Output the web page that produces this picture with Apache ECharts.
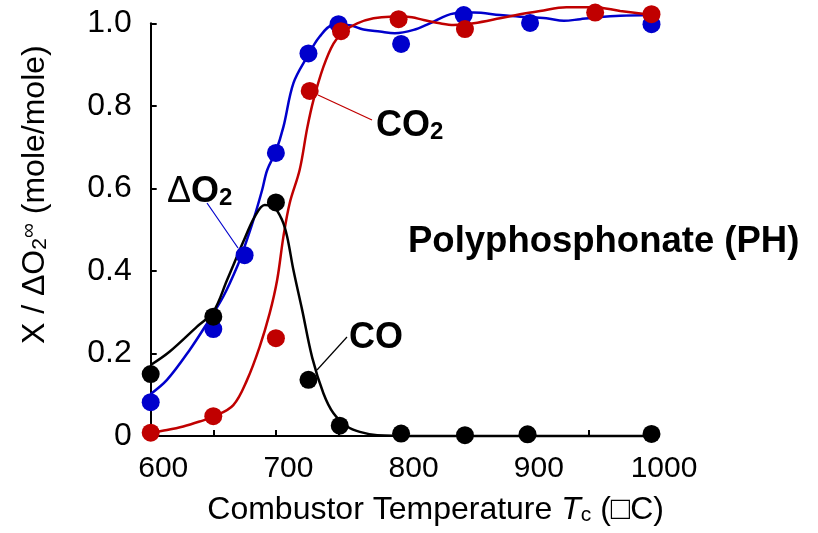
<!DOCTYPE html>
<html>
<head>
<meta charset="utf-8">
<script src="https://cdn.jsdelivr.net/npm/echarts@6/dist/echarts.min.js"></script>
<style>
  html, body { margin: 0; padding: 0; background: #fff; }
  #chart { width: 818px; height: 533px; }
</style>
</head>
<body>
<div id="chart"></div>
<script>
// Measured points: combustor temperature (°C) and normalised yield
const tempCO  = [590, 640, 690, 716, 741, 790, 841, 891, 990];
const yieldCO = [0.150, 0.289, 0.566, 0.136, 0.025, 0.006, 0.002, 0.004, 0.005];

const tempO2  = [590, 640, 665, 690, 716, 740, 790, 840, 893, 990];
const yieldO2 = [0.082, 0.259, 0.438, 0.686, 0.927, 0.998, 0.950, 1.020, 1.001, 0.998];

const tempCO2  = [590, 640, 690, 717, 742, 788, 841, 945, 990];
const yieldCO2 = [0.008, 0.048, 0.237, 0.836, 0.981, 1.010, 0.986, 1.026, 1.022];

// Fitted curves drawn through each data set
const fitTempCO = [590, 605, 627, 640, 651, 664, 673, 681, 688, 695, 699, 704, 711, 719, 728, 736, 747, 757, 771, 800, 990];
const fitCO     = [0.172, 0.204, 0.265, 0.301, 0.378, 0.471, 0.531, 0.560, 0.556, 0.523, 0.483, 0.402, 0.305, 0.190, 0.103, 0.055, 0.023, 0.010, 0.002, 0, 0];

const fitTempO2 = [590, 603, 621, 635, 648, 659, 665, 672, 679, 683, 690, 696, 704, 715, 725, 736, 747, 760, 773, 785, 800, 813, 832, 848, 869, 885, 906, 920, 933, 946, 965, 990];
const fitO2     = [0.102, 0.136, 0.208, 0.273, 0.338, 0.410, 0.459, 0.523, 0.596, 0.644, 0.690, 0.749, 0.855, 0.919, 0.968, 0.996, 0.996, 0.985, 0.980, 0.976, 0.984, 1.000, 1.024, 1.026, 1.020, 1.016, 1.012, 1.006, 1.010, 1.014, 1.018, 1.020];

const fitTempCO2 = [590, 603, 616, 629, 641, 656, 667, 677, 685, 691, 696, 701, 709, 715, 720, 728, 736, 744, 755, 768, 781, 795, 808, 821, 832, 848, 869, 885, 901, 922, 944, 965, 986];
const fitCO2     = [0.008, 0.0145, 0.023, 0.035, 0.048, 0.075, 0.136, 0.216, 0.297, 0.378, 0.483, 0.564, 0.645, 0.746, 0.814, 0.895, 0.951, 0.980, 1.000, 1.012, 1.016, 1.016, 1.008, 1.000, 0.996, 1.000, 1.012, 1.022, 1.030, 1.039, 1.039, 1.030, 1.022];

// Axis ranges and tick labels
const xMin = 590, xMax = 990, xStep = 50;
const xLabelMin = 600, xLabelMax = 1000, xLabelStep = 100;
const yMin = 0, yMax = 1, yStep = 0.2;

const BLUE = '#0000CC', RED = '#C00000', BLACK = '#000000';
const FONT = '"Liberation Sans", Arial, Helvetica, sans-serif';

const zip = (xs, ys) => xs.map((x, i) => [x, ys[i]]);

const chart = echarts.init(document.getElementById('chart'), null, { renderer: 'canvas' });

// Plot frame in pixels; a second grid carries the 600..1000 labels on the same scale
const plotL = 150.7, plotR = 651.5, plotT = 23.3, plotB = 436;
const pxPerUnit = (plotR - plotL) / (xMax - xMin);
const lblL = plotL + (xLabelMin - xMin) * pxPerUnit;
const lblR = plotL + (xLabelMax - xMin) * pxPerUnit;

function lineSeries(name, xs, ys, color) {
  return {
    name, type: 'line', data: zip(xs, ys), smooth: 0.35, showSymbol: false,
    lineStyle: { color, width: 2.5 }, clip: false, silent: true, z: 2
  };
}
function dotSeries(name, xs, ys, color, z) {
  return {
    name, type: 'scatter', data: zip(xs, ys), symbol: 'circle', symbolSize: 18,
    itemStyle: { color, opacity: 1 }, clip: false, silent: true, z
  };
}

const subStyle = (color, size, bold) => ({
  fontFamily: FONT, fontSize: size, fontWeight: bold ? 'bold' : 'normal', color,
  lineHeight: size, verticalAlign: 'bottom', padding: [Math.round(size * 0.8), 0, 0, 0]
});
const supStyle = (color, size) => ({
  fontFamily: FONT, fontSize: size, color,
  lineHeight: size, verticalAlign: 'top', padding: [0, 0, Math.round(size * 0.8), 0]
});

chart.setOption({
  animation: false,
  backgroundColor: '#fff',
  grid: [
    { left: plotL, right: 818 - plotR, top: plotT, bottom: 533 - plotB },
    { left: lblL, right: 818 - lblR, top: plotT, bottom: 533 - plotB }
  ],
  xAxis: [
    {
      gridIndex: 0, type: 'value', min: xMin, max: xMax, interval: xStep,
      axisLine: { show: true, onZero: false, lineStyle: { color: BLACK, width: 2 } },
      axisTick: { show: true, inside: true, length: 6, lineStyle: { color: BLACK, width: 2 } },
      axisLabel: { show: false },
      splitLine: { show: false },
      name: '{a|Combustor Temperature }{i|T}{s|c}{a| (\u25A1C)}',
      nameLocation: 'middle', nameGap: 58,
      nameTextStyle: {
        padding: [0, 0, 0, 69],
        rich: {
          a: { fontFamily: FONT, fontSize: 32, lineHeight: 32, color: BLACK },
          i: { fontFamily: FONT, fontSize: 32, lineHeight: 32, fontStyle: 'italic', color: BLACK },
          s: subStyle(BLACK, 21, false)
        }
      }
    },
    {
      gridIndex: 1, type: 'value', min: xLabelMin, max: xLabelMax, interval: xLabelStep,
      axisLine: { show: false }, axisTick: { show: false }, splitLine: { show: false },
      axisLabel: {
        show: true, margin: 18, fontFamily: FONT, fontSize: 30, color: BLACK,
        formatter: v => String(v)
      }
    }
  ],
  yAxis: [
    {
      gridIndex: 0, type: 'value', min: yMin, max: yMax, interval: yStep,
      axisLine: { show: true, lineStyle: { color: BLACK, width: 2 } },
      axisTick: { show: true, inside: true, length: 6, lineStyle: { color: BLACK, width: 2 } },
      splitLine: { show: false },
      axisLabel: {
        margin: 19, fontFamily: FONT, fontSize: 32, color: BLACK,
        formatter: v => (v === 0 ? '0' : v.toFixed(1))
      },
      name: '{a|X / \u0394O}{s|2}{p|\u221E}{a| (mole/mole)}',
      nameLocation: 'middle', nameRotate: 90, nameGap: 100,
      nameTextStyle: {
        padding: [0, 0, 0, 70],
        rich: {
          a: { fontFamily: FONT, fontSize: 32, lineHeight: 32, color: BLACK },
          s: subStyle(BLACK, 21, false),
          p: supStyle(BLACK, 21)
        }
      }
    },
    { gridIndex: 1, type: 'value', min: yMin, max: yMax, show: false }
  ],
  series: [
    lineSeries('O2 fit', fitTempO2, fitO2, BLUE),
    lineSeries('CO2 fit', fitTempCO2, fitCO2, RED),
    lineSeries('CO fit', fitTempCO, fitCO, BLACK),
    dotSeries('\u0394O2', tempO2, yieldO2, BLUE, 3),
    dotSeries('CO', tempCO, yieldCO, BLACK, 4),
    dotSeries('CO2', tempCO2, yieldCO2, RED, 5)
  ],
  graphic: [
    // leader lines from series labels to their curves
    { type: 'line', shape: { x1: 207, y1: 203, x2: 238, y2: 248 }, style: { stroke: BLUE, lineWidth: 1.2 }, z: 10 },
    { type: 'line', shape: { x1: 318, y1: 95, x2: 372, y2: 120 }, style: { stroke: RED, lineWidth: 1.3 }, z: 10 },
    { type: 'line', shape: { x1: 317, y1: 370, x2: 347, y2: 337 }, style: { stroke: BLACK, lineWidth: 1.2 }, z: 10 },
    {
      type: 'text', x: 167, y: 192, z: 10,
      style: {
        text: '{d|\u0394}{o|O}{s|2}', textVerticalAlign: 'middle',
        rich: {
          d: { fontFamily: FONT, fontSize: 36, lineHeight: 36, color: BLUE },
          o: { fontFamily: FONT, fontSize: 36, lineHeight: 36, fontWeight: 'bold', color: BLUE },
          s: subStyle(BLUE, 24, true)
        }
      }
    },
    {
      type: 'text', x: 376, y: 126, z: 10,
      style: {
        text: '{o|CO}{s|2}', textVerticalAlign: 'middle',
        rich: {
          o: { fontFamily: FONT, fontSize: 36, lineHeight: 36, fontWeight: 'bold', color: RED },
          s: subStyle(RED, 24, true)
        }
      }
    },
    {
      type: 'text', x: 349, y: 338, z: 10,
      style: { text: 'CO', font: 'bold 36px ' + FONT, fill: BLACK, textVerticalAlign: 'middle' }
    },
    {
      type: 'text', x: 408, y: 242, z: 10,
      style: { text: 'Polyphosphonate (PH)', font: 'bold 36.5px ' + FONT, fill: BLACK, textVerticalAlign: 'middle' }
    }
  ]
});
</script>
</body>
</html>
